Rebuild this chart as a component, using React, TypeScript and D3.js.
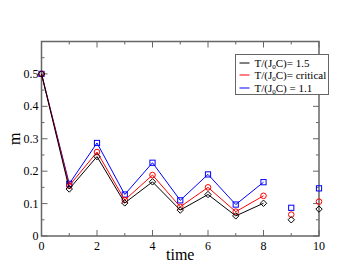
import React, { useEffect, useRef } from 'react';
import * as d3 from 'd3';

// time steps
const times = [0, 1, 2, 3, 4, 5, 6, 7, 8, 9, 10];
// m values per series
const mHigh = [0.5, 0.145, 0.245, 0.102, 0.167, 0.08, 0.128, 0.062, 0.101, 0.05, 0.083];
const mCrit = [0.5, 0.155, 0.259, 0.111, 0.188, 0.09, 0.15, 0.075, 0.124, 0.066, 0.106];
const mLow = [0.5, 0.161, 0.287, 0.128, 0.226, 0.11, 0.19, 0.097, 0.166, 0.087, 0.147];
// last connected index (points after this are drawn alone)
const lastJoined = 8;
const xTicks = [0, 2, 4, 6, 8, 10];
const yTicks = [0, 0.1, 0.2, 0.3, 0.4, 0.5];

const series = [
  { name: '= 1.5', vals: mHigh, color: 'black', marker: 'diamond' },
  { name: '= critical', vals: mCrit, color: 'red', marker: 'circle' },
  { name: ' = 1.1', vals: mLow, color: 'blue', marker: 'square' },
];

export default function App() {
  const ref = useRef<SVGSVGElement>(null);

  useEffect(() => {
    const width = 359, height = 278;
    const left = 41.5, right = 319, top = 41.5, bottom = 236;
    const svg = d3.select(ref.current);
    svg.selectAll('*').remove();
    svg.attr('width', width).attr('height', height)
      .style('font-family', '"Liberation Serif", "DejaVu Serif", serif');

    const x = d3.scaleLinear().domain([0, 10]).range([left, right]);
    const y = d3.scaleLinear().domain([0, 0.6]).range([bottom, top]);
    const axisColor = '#666';

    // frame
    svg.append('rect')
      .attr('x', left).attr('y', top)
      .attr('width', right - left).attr('height', bottom - top)
      .attr('fill', 'none').attr('stroke', axisColor).attr('stroke-width', 1.5);

    // ticks (inward, all four sides)
    const g = svg.append('g').attr('stroke', axisColor).attr('stroke-width', 1);
    d3.range(0, 11, 1).forEach(v => {
      const len = v % 2 === 0 ? 6 : 3;
      g.append('line').attr('x1', x(v)).attr('x2', x(v)).attr('y1', bottom).attr('y2', bottom - len);
      g.append('line').attr('x1', x(v)).attr('x2', x(v)).attr('y1', top).attr('y2', top + len);
    });
    d3.range(0, 12, 1).forEach(i => {
      const v = i * 0.05;
      const len = i % 2 === 0 ? 6 : 3;
      g.append('line').attr('x1', left).attr('x2', left + len).attr('y1', y(v)).attr('y2', y(v));
      g.append('line').attr('x1', right).attr('x2', right - len).attr('y1', y(v)).attr('y2', y(v));
    });

    // tick labels
    svg.append('g').selectAll('text').data(xTicks).join('text')
      .attr('x', d => x(d)).attr('y', bottom + 14)
      .attr('text-anchor', 'middle').attr('font-size', 12).text(d => d);
    svg.append('g').selectAll('text').data(yTicks).join('text')
      .attr('x', left - 3).attr('y', d => y(d) + 4)
      .attr('text-anchor', 'end').attr('font-size', 12)
      .text(d => d === 0 ? '0' : d3.format('.1f')(d));

    // axis titles
    svg.append('text').attr('x', (left + right) / 2).attr('y', 260)
      .attr('text-anchor', 'middle').attr('font-size', 16).text('time');
    svg.append('text').attr('transform', `translate(20,${(top + bottom) / 2}) rotate(-90)`)
      .attr('text-anchor', 'middle').attr('font-size', 16).text('m');

    // lines + markers
    const line = d3.line<number>().x((d, i) => x(times[i])).y(d => y(d));
    series.slice().reverse().forEach(s => {
      svg.append('path')
        .attr('d', line(s.vals.slice(0, lastJoined + 1)))
        .attr('fill', 'none').attr('stroke', s.color).attr('stroke-width', 1);
      const mg = svg.append('g').attr('fill', 'none').attr('stroke', s.color).attr('stroke-width', 1);
      s.vals.forEach((v, i) => {
        const cx = x(times[i]), cy = y(v);
        if (s.marker === 'circle') {
          mg.append('circle').attr('cx', cx).attr('cy', cy).attr('r', 2.8);
        } else if (s.marker === 'square') {
          mg.append('rect').attr('x', cx - 2.6).attr('y', cy - 2.6).attr('width', 5.2).attr('height', 5.2);
        } else {
          mg.append('path').attr('d', `M${cx},${cy - 3.2}L${cx + 3.2},${cy}L${cx},${cy + 3.2}L${cx - 3.2},${cy}Z`);
        }
      });
    });

    // legend
    const lx = 235.5, ly = 54.5;
    svg.append('rect').attr('x', lx).attr('y', ly).attr('width', 93).attr('height', 40)
      .attr('fill', 'white').attr('stroke', axisColor).attr('stroke-width', 1);
    series.forEach((s, i) => {
      const yy = Math.round(ly + 8 + i * 12.5);
      svg.append('line').attr('x1', lx + 4).attr('x2', lx + 14).attr('y1', yy).attr('y2', yy)
        .attr('stroke', s.color).attr('stroke-width', 1);
      const t = svg.append('text').attr('x', lx + 19).attr('y', yy + 3.5).attr('font-size', 11);
      t.append('tspan').text('T/(J');
      t.append('tspan').attr('font-size', 7).attr('dy', 2).text('0');
      t.append('tspan').attr('dy', -2).text('C)' + s.name);
    });
  }, []);

  return <svg ref={ref} style={{ position: 'absolute', left: 0, top: 0 }} />;
}
